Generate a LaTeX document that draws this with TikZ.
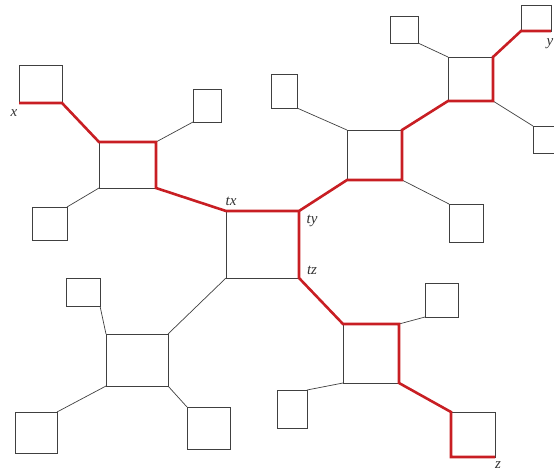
\documentclass[tikz,border=0pt]{standalone}
\usepackage{fontspec}
\setmainfont{Liberation Serif}
\definecolor{pathred}{RGB}{200,30,35}
\tikzset{
  box/.style={draw=black!75, line width=0.7pt, inner sep=0pt, outer sep=0pt},
  link/.style={draw=black!75, line width=0.7pt},
  route/.style={draw=pathred, line width=2.6pt, line join=miter},
  lbl/.style={font=\fontsize{15}{17}\selectfont\itshape, text=black!80, inner sep=0pt}
}
\begin{document}
\begin{tikzpicture}[x=1pt, y=-1pt]
\clip (0,0) rectangle (554,472);

% central square
\node[box, minimum width=73pt, minimum height=67pt] (T) at (262.5,244.5) {};

% upper left cluster
\node[box, minimum width=57pt, minimum height=46pt] (C1) at (127.5,165) {};
\node[box, minimum width=43pt, minimum height=38pt] (Lx) at (40.5,84) {};
\node[box, minimum width=28pt, minimum height=33pt] (L1b) at (207,105.5) {};
\node[box, minimum width=35pt, minimum height=33pt] (L1c) at (49.5,223.5) {};

% upper middle cluster
\node[box, minimum width=55pt, minimum height=50pt] (C2) at (374.5,155) {};
\node[box, minimum width=26pt, minimum height=34pt] (L2a) at (284,91) {};
\node[box, minimum width=34pt, minimum height=38pt] (L2b) at (466,223) {};

% upper right cluster
\node[box, minimum width=45pt, minimum height=44pt] (C3) at (470.5,79) {};
\node[box, minimum width=28pt, minimum height=27pt] (L3a) at (404,29.5) {};
\node[box, minimum width=30pt, minimum height=26pt] (Ly) at (536,18) {};
\node[box, minimum width=27pt, minimum height=27pt] (L3b) at (546.5,139.5) {};

% lower left cluster
\node[box, minimum width=62pt, minimum height=52pt] (C4) at (137,360) {};
\node[box, minimum width=34pt, minimum height=28pt] (L4a) at (83,292) {};
\node[box, minimum width=42pt, minimum height=41pt] (L4b) at (36,432.5) {};
\node[box, minimum width=43pt, minimum height=42pt] (L4c) at (208.5,428) {};

% lower right cluster
\node[box, minimum width=56pt, minimum height=59pt] (C5) at (371,353.5) {};
\node[box, minimum width=33pt, minimum height=34pt] (L5a) at (441.5,300) {};
\node[box, minimum width=30pt, minimum height=38pt] (L5b) at (292,409) {};
\node[box, minimum width=44pt, minimum height=45pt] (Lz) at (473,434.5) {};

% plain links
\draw[link] (T.south west) -- (C4.north east);
\draw[link] (C1.north east) -- (L1b.south west);
\draw[link] (C1.south west) -- (L1c.north east);
\draw[link] (C2.north west) -- (L2a.south east);
\draw[link] (C2.south east) -- (L2b.north west);
\draw[link] (C3.north west) -- (L3a.south east);
\draw[link] (C3.south east) -- (L3b.north west);
\draw[link] (C4.north west) -- (L4a.south east);
\draw[link] (C4.south west) -- (L4b.north east);
\draw[link] (C4.south east) -- (L4c.north west);
\draw[link] (C5.north east) -- (L5a.south west);
\draw[link] (C5.south west) -- (L5b.north east);

% red routes
\draw[route] (Lx.south west) -- (Lx.south east) -- (C1.north west)
  -- (C1.north east) -- (C1.south east) -- (T.north west) -- (T.north east)
  -- (C2.south west) -- (C2.south east) -- (C2.north east) -- (C3.south west)
  -- (C3.south east) -- (C3.north east) -- (Ly.south west) -- (Ly.south east);
\draw[route] (T.north east) -- (T.south east) -- (C5.north west)
  -- (C5.north east) -- (C5.south east) -- (Lz.north west)
  -- (Lz.south west) -- (Lz.south east);

% labels
\node[lbl] (lx) at (14,113) {x};
\node[lbl] (ltx) at (231,201) {tx};
\node[lbl] (lty) at (312,221) {ty};
\node[lbl] (ltz) at (312,270) {tz};
\node[lbl] (ly) at (550,44) {y};
\node[lbl] (lz) at (498,465) {z};
\end{tikzpicture}
\end{document}
